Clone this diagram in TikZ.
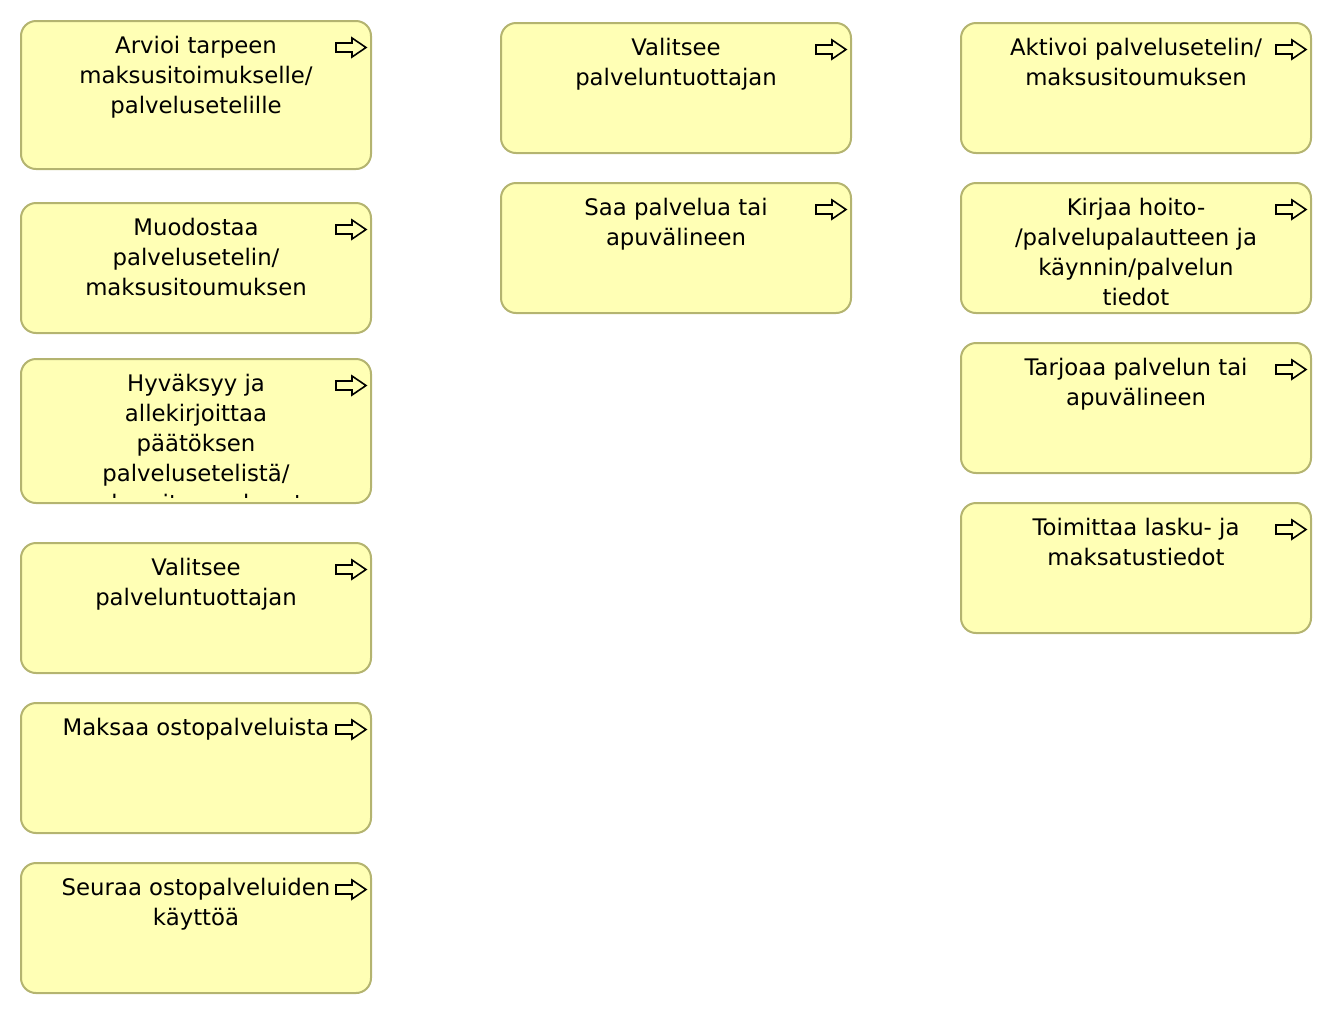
\documentclass[tikz,border=0pt]{standalone}
\usepackage{fontspec}
\setmainfont{DejaVu Sans}
\definecolor{boxfill}{HTML}{FFFFB5}
\definecolor{boxline}{HTML}{B4B470}

\tikzset{
  procbox/.style={draw=boxline, fill=boxfill, line width=1pt, rounded corners=7.5pt,
    anchor=north west, minimum width=175pt, inner sep=0pt, outer sep=0pt},
  proctext/.style={anchor=north, align=center, inner sep=0pt,
    font=\fontsize{11.4}{15}\selectfont},
  procicon/.style={draw=black, line width=0.8pt, line join=miter}
}

% name, left, top, height, text
\newcommand{\procnode}[5]{%
  \node[procbox, minimum height=#4*0.5pt] (#1) at (#2,#3) {};
  \begin{scope}
    \clip (#2,#3) rectangle ({#2+350},{#3+#4-6});
    \node[proctext] (#1-text) at ([yshift=-7.5pt]#1.north) {#5};
  \end{scope}
  \draw[procicon] ([shift={(-35,22)}]#1.north east) -- ++(16,0) -- ++(0,-5)
    -- ++(14,9.5) -- ++(-14,9.5) -- ++(0,-5) -- ++(-16,0) -- cycle;
}

\begin{document}
\begin{tikzpicture}[x=0.5pt, y=-0.5pt]
  \useasboundingbox (0,0) rectangle (1332,1014);

  % first column
  \procnode{arvioi}{21}{21}{148}{Arvioi tarpeen\\maksusitoimukselle/\\palvelusetelille}
  \procnode{muodostaa}{21}{203}{130}{Muodostaa\\palvelusetelin/\\maksusitoumuksen}
  \procnode{hyvaksyy}{21}{359}{144}{Hyväksyy ja\\allekirjoittaa\\päätöksen\\palvelusetelistä/\\maksusitoumuksesta}
  \procnode{valitseA}{21}{543}{130}{Valitsee\\palveluntuottajan}
  \procnode{maksaa}{21}{703}{130}{Maksaa ostopalveluista}
  \procnode{seuraa}{21}{863}{130}{Seuraa ostopalveluiden\\käyttöä}

  % second column
  \procnode{valitseB}{501}{23}{130}{Valitsee\\palveluntuottajan}
  \procnode{saa}{501}{183}{130}{Saa palvelua tai\\apuvälineen}

  % third column
  \procnode{aktivoi}{961}{23}{130}{Aktivoi palvelusetelin/\\maksusitoumuksen}
  \procnode{kirjaa}{961}{183}{130}{Kirjaa hoito-\\/palvelupalautteen ja\\käynnin/palvelun\\tiedot}
  \procnode{tarjoaa}{961}{343}{130}{Tarjoaa palvelun tai\\apuvälineen}
  \procnode{toimittaa}{961}{503}{130}{Toimittaa lasku- ja\\maksatustiedot}
\end{tikzpicture}
\end{document}
